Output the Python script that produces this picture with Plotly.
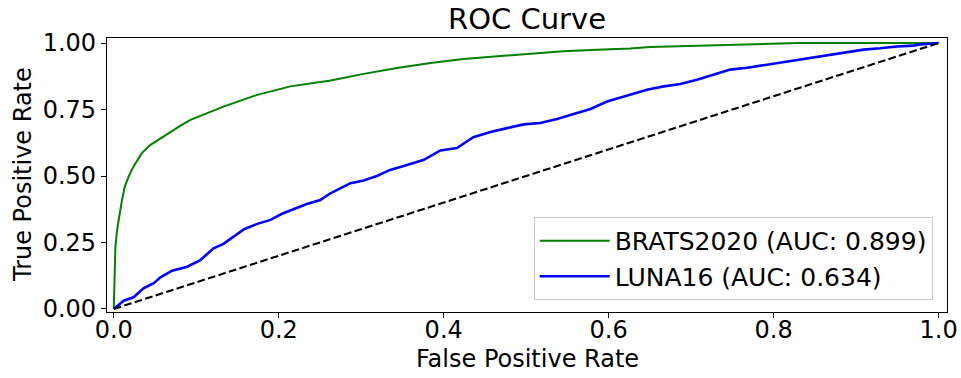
import plotly.graph_objects as go

# ---- data ----
brats_fpr = [0.0, 0.0012, 0.002, 0.004, 0.007, 0.010, 0.0134, 0.018, 0.024, 0.034, 0.0445,
             0.0566, 0.0687, 0.081, 0.093, 0.133, 0.174, 0.214, 0.263, 0.303, 0.3435, 0.384,
             0.424, 0.465, 0.505, 0.545, 0.586, 0.626, 0.6505, 0.707, 0.75, 0.788, 0.83, 1.0]
brats_tpr = [0.0, 0.147, 0.234, 0.297, 0.360, 0.410, 0.460, 0.498, 0.536, 0.586, 0.617,
             0.642, 0.667, 0.689, 0.711, 0.761, 0.805, 0.837, 0.859, 0.884, 0.906, 0.925,
             0.940, 0.950, 0.960, 0.969, 0.975, 0.979, 0.985, 0.990, 0.995, 0.999, 1.0, 1.0]

luna_fpr = [0.0, 0.012, 0.024, 0.036, 0.0485, 0.0566, 0.0708, 0.089, 0.105, 0.121, 0.133,
            0.1455, 0.158, 0.174, 0.190, 0.204, 0.218, 0.234, 0.2505, 0.2627, 0.287, 0.303,
            0.319, 0.335, 0.3515, 0.376, 0.396, 0.416, 0.436, 0.4566, 0.477, 0.497, 0.517,
            0.5375, 0.5576, 0.578, 0.598, 0.626, 0.6465, 0.6667, 0.687, 0.707, 0.727, 0.7475,
            0.768, 0.788, 0.808, 0.828, 0.8485, 0.869, 0.889, 0.909, 0.929, 0.9495, 0.970,
            0.978, 1.0]
luna_tpr = [0.0, 0.031, 0.044, 0.078, 0.097, 0.119, 0.144, 0.159, 0.184, 0.228, 0.245,
            0.272, 0.300, 0.320, 0.335, 0.358, 0.375, 0.395, 0.410, 0.435, 0.473, 0.483,
            0.500, 0.523, 0.538, 0.561, 0.596, 0.605, 0.646, 0.665, 0.680, 0.694, 0.699,
            0.714, 0.733, 0.752, 0.780, 0.804, 0.824, 0.837, 0.846, 0.862, 0.880, 0.900,
            0.907, 0.917, 0.925, 0.937, 0.946, 0.955, 0.965, 0.975, 0.980, 0.987, 0.990,
            0.995, 1.0]

chance_x = [0.0, 1.0]
chance_y = [0.0, 1.0]

series_names = ["BRATS2020 (AUC: 0.899)", "LUNA16 (AUC: 0.634)"]

x_ticks = [0.0, 0.2, 0.4, 0.6, 0.8, 1.0]
x_tick_labels = ["0.0", "0.2", "0.4", "0.6", "0.8", "1.0"]
y_ticks = [0.0, 0.25, 0.5, 0.75, 1.0]
y_tick_labels = ["0.00", "0.25", "0.50", "0.75", "1.00"]

FONT = "DejaVu Sans"

fig = go.Figure()
fig.add_trace(go.Scatter(x=brats_fpr, y=brats_tpr, mode="lines", name=series_names[0],
                         line=dict(color="green", width=2.0)))
fig.add_trace(go.Scatter(x=luna_fpr, y=luna_tpr, mode="lines", name=series_names[1],
                         line=dict(color="blue", width=2.6)))
fig.add_trace(go.Scatter(x=chance_x, y=chance_y, mode="lines", showlegend=False,
                         line=dict(color="black", width=2.1, dash="7.7px,3.3px")))

fig.update_layout(
    width=961, height=378,
    margin=dict(l=107, r=14, t=38, b=66, autoexpand=False),
    paper_bgcolor="white", plot_bgcolor="white",
    font=dict(family=FONT, size=24, color="black"),
    title=dict(text="ROC Curve", x=0.5, xref="paper", xanchor="center",
               y=0.95, yref="container", yanchor="middle",
               font=dict(family=FONT, size=29, color="black")),
    legend=dict(x=0.983, y=0.044, xanchor="right", yanchor="bottom",
                bgcolor="rgba(255,255,255,0.8)", bordercolor="#cccccc", borderwidth=1,
                itemwidth=70,
                font=dict(family=FONT, size=25, color="black")),
    showlegend=True,
    annotations=[
        dict(text="False Positive Rate", xref="paper", yref="paper", x=0.5, y=-0.172,
             xanchor="center", yanchor="middle", showarrow=False,
             font=dict(family=FONT, size=24, color="black")),
        dict(text="True Positive Rate", xref="paper", yref="paper", x=-0.1, y=0.5,
             xanchor="center", yanchor="middle", showarrow=False, textangle=-90,
             font=dict(family=FONT, size=24, color="black")),
    ],
)
fig.update_xaxes(range=[-0.0082, 1.0102], tickvals=x_ticks, ticktext=x_tick_labels,
                 showgrid=False, zeroline=False, showline=True, linecolor="black",
                 linewidth=1.2, mirror=True, ticks="outside", ticklen=5, tickwidth=1,
                 tickcolor="black", tickfont=dict(size=24), automargin=False,
                 ticklabelstandoff=-9)
fig.update_yaxes(range=[-0.0113, 1.0188], tickvals=y_ticks, ticktext=y_tick_labels,
                 showgrid=False, zeroline=False, showline=True, linecolor="black",
                 linewidth=1.2, mirror=True, ticks="outside", ticklen=5, tickwidth=1,
                 tickcolor="black", tickfont=dict(size=24), automargin=False)

fig.write_html("out.html", config={"displayModeBar": False},
               post_script="document.body.style.margin='0px';")
